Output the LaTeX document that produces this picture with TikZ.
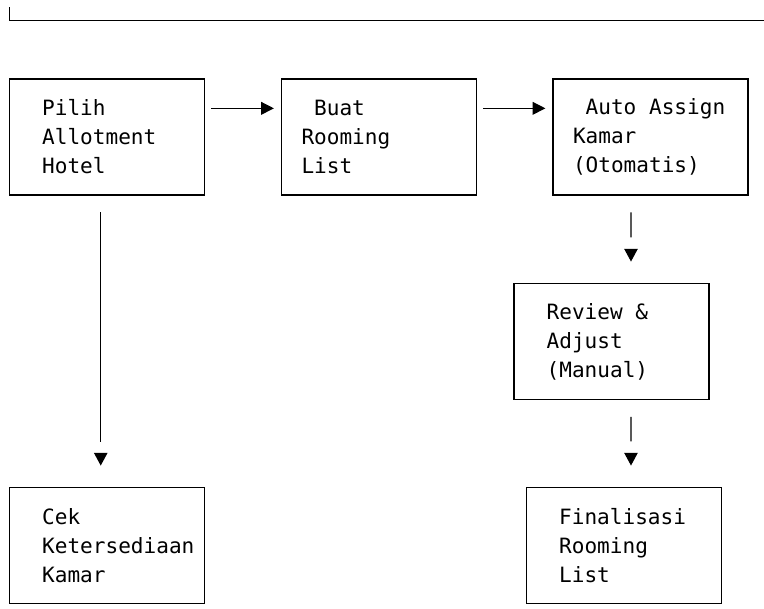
\documentclass[tikz,border=0pt]{standalone}
\usepackage{fontspec}
\setmonofont{DejaVu Sans Mono}
\usetikzlibrary{arrows.meta}
\newcommand{\chpad}{\hphantom{x}}

\begin{document}
\begin{tikzpicture}[x=0.75pt, y=-0.75pt,
		stepbox/.style={draw, line width=0.9pt, minimum width=146.25pt, minimum height=87pt,
			text width=116.25pt, inner xsep=15pt, inner ysep=0pt, align=left,
			font=\ttfamily\fontsize{15.8}{21.75}\selectfont},
		flow/.style={line width=0.9pt, -{Triangle[width=9.5pt, length=9.5pt]}},
		drop/.style={line width=0.9pt, shorten <=12.5pt, shorten >=16pt,
			dash pattern=on #1 off 300pt,
			-{Triangle[width=10pt, length=9.5pt]}}]
	\useasboundingbox (0,0) rectangle (764,608);

	% leftover corner at the top
	\draw [line width=0.9pt] (9.3,7.3) -- (9.3,20.3) -- (770,20.3);

	\node [stepbox] (allot) at (107,137) {\chpad Pilih\\\chpad Allotment\\\chpad Hotel};
	\node [stepbox] (room) at (379,137) {\chpad Buat\\Rooming\\List};
	\node [stepbox] (auto) at (650.5,137) {\chpad Auto\chpad Assign\\Kamar\\(Otomatis)};
	\node [stepbox] (review) at (611.5,341.5) {\chpad Review\chpad\&\\\chpad Adjust\\\chpad (Manual)};
	\node [stepbox] (cek) at (107,545.5) {\chpad Cek\\\chpad Ketersediaan\\\chpad Kamar};
	\node [stepbox] (final) at (624,545.5) {\chpad Finalisasi\\\chpad Rooming\\\chpad List};

	\begin{scope}[shorten <=4.5pt, shorten >=5.25pt]
		\draw [flow] ([yshift=21.5pt]allot.east) -- ([yshift=21.5pt]room.west);
		\draw [flow] ([yshift=21.5pt]room.east) -- ([yshift=21.5pt]auto.west);
	\end{scope}

	\draw [drop=172.5pt] ([xshift=-4.7pt]allot.south) -- ([xshift=-4.7pt]cek.north);
	\draw [drop=18.75pt] ([xshift=-14.6pt]auto.south) -- ([xshift=14.6pt]review.north);
	\draw [drop=18.5pt] ([xshift=14.6pt]review.south) -- ([xshift=5.25pt]final.north);
\end{tikzpicture}
\end{document}
